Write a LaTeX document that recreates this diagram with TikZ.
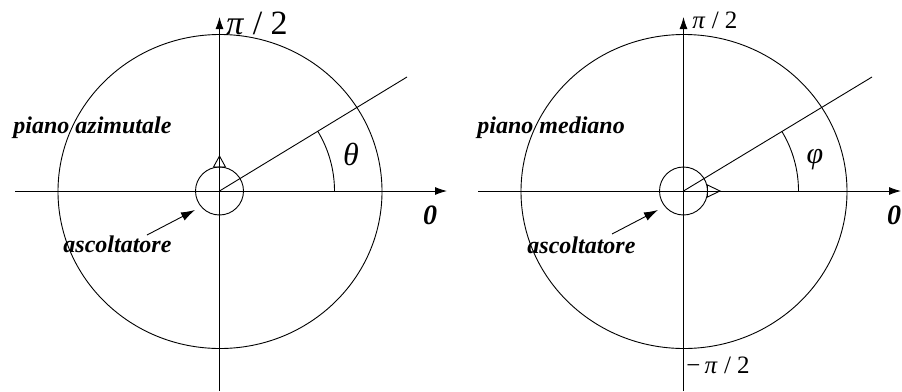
\documentclass[tikz,border=0pt]{standalone}
\usepackage{fontspec}
\setmainfont{Liberation Serif}
\usetikzlibrary{arrows.meta}
\begin{document}
\begin{tikzpicture}[x=1pt,y=-1pt,line width=0.9pt,
  axisarrow/.style={-{Latex[length=12pt,width=8pt]}},
  pointer/.style={-{Latex[length=14pt,width=9pt]}},
  lbl/.style={inner sep=0pt,font=\fontsize{24}{24}\selectfont\bfseries\itshape},
  zero/.style={inner sep=0pt,font=\fontsize{28}{28}\selectfont\bfseries\itshape},
  greek/.style={inner sep=0pt,font=\fontsize{32}{32}\selectfont\itshape}]
\useasboundingbox (0,0) rectangle (902,391);
% ---------- left ----------
\coordinate (O1) at (219.5,191);
\coordinate (L1) at (15,191);
\coordinate (R1) at (447,191);
\coordinate (B1) at (219.5,391);
\coordinate (T1) at (219.5,17);
\coordinate (E1) at (407,77);
\draw (220,191.5) ellipse [x radius=162, y radius=157];
\draw[axisarrow] (L1) -- (R1);
\draw[axisarrow] (B1) -- (T1);
\draw (O1) circle [radius=24];
\draw (213.5,167) -- (219.5,156) -- (225.5,167) -- cycle;
\draw (O1) -- (E1);
\draw (334.5,191) arc [start angle=0, end angle=31.2, x radius=115, y radius=-115];
\node[inner sep=0pt,anchor=base west,font=\fontsize{34}{34}\selectfont] (p1) at (226,34) {\textit{π} / 2};
\node[greek] (th) at (351,154) {θ};
\node[zero] (z1) at (430,215) {0};
\node[lbl,anchor=base west] (pa) at (13,133) {piano azimutale};
\node[lbl,anchor=base west] (as1) at (63,252) {ascoltatore};
\coordinate (a1s) at (147,235);
\coordinate (a1e) at (195,210);
\draw[pointer] (a1s) -- (a1e);
% ---------- right ----------
\coordinate (O2) at (683.5,191);
\coordinate (L2) at (478,191);
\coordinate (R2) at (901,191);
\coordinate (B2) at (683.5,391);
\coordinate (T2) at (683.5,17);
\coordinate (E2) at (872,77);
\draw (684,191.5) ellipse [x radius=163, y radius=157];
\draw[axisarrow] (L2) -- (R2);
\draw[axisarrow] (B2) -- (T2);
\draw (O2) circle [radius=24];
\draw (707.5,185) -- (720,191) -- (707.5,197) -- cycle;
\draw (O2) -- (E2);
\draw (798.5,191) arc [start angle=0, end angle=31.1, x radius=115, y radius=-115];
\node[inner sep=0pt,anchor=base west,font=\fontsize{25}{25}\selectfont] (p2) at (692,28) {\textit{π} / 2};
\node[inner sep=0pt,anchor=base west,font=\fontsize{25}{25}\selectfont] (mp2) at (686,373) {−\,\textit{π} / 2};
\node[greek,font=\fontsize{30}{30}\selectfont\itshape] (ph) at (815,160) {φ};
\node[zero] (z2) at (894,215) {0};
\node[lbl,anchor=base west] (pm) at (477,133) {piano mediano};
\node[lbl,anchor=base west] (as2) at (527,253) {ascoltatore};
\coordinate (a2s) at (612,234);
\coordinate (a2e) at (658,210);
\draw[pointer] (a2s) -- (a2e);
\end{tikzpicture}
\end{document}
